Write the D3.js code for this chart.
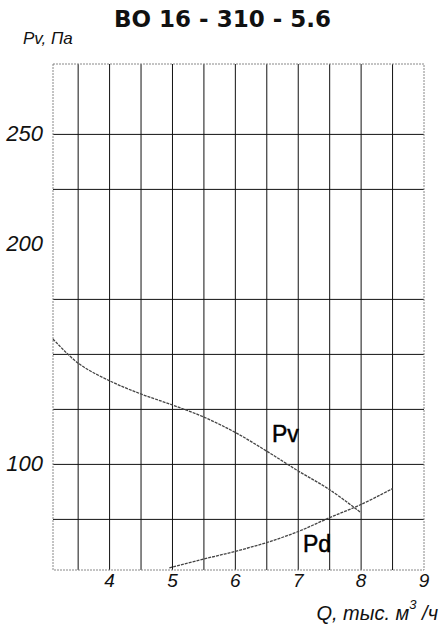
<!DOCTYPE html>
<html>
<head>
<meta charset="utf-8">
<script src="https://cdn.jsdelivr.net/npm/d3@7"></script>
<style>
  body { margin: 0; background: #fff; }
  .tick-lbl { font-family: "Liberation Sans Narrow", "Liberation Sans", sans-serif; font-style: italic; fill: #111; }
</style>
</head>
<body>
<div id="chart"></div>
<script>
// Datos de la curva (Q en miles m3/h, presion en Pa)
const qPv = [3.1, 3.5, 4, 4.5, 5, 5.5, 6, 6.5, 7, 7.5, 8];
const pv = [157, 146, 138, 132, 127, 121.5, 114.5, 106, 97, 88.5, 78];
const qPd = [4.95, 5.5, 6, 6.5, 7, 7.5, 8, 8.5];
const pd = [53, 57, 60.5, 64.5, 69.5, 75.8, 81.8, 89];

const xTicks = [4, 5, 6, 7, 8, 9];
const xGrid = [3.5, 4, 4.5, 5, 5.5, 6, 6.5, 7, 7.5, 8, 8.5];
const yTicks = [100, 200, 250];
const yGrid = [75, 100, 125, 150, 175, 225, 250];

const W = 443, H = 624;
const box = {left: 53, right: 424, top: 64, bottom: 570};

let svg = d3.select("#chart")
  .append("svg")
    .attr("width", W)
    .attr("height", H);

var xScale = d3.scaleLinear()
  .domain([3.1, 9])
  .range([box.left, box.right]);

var yScale = d3.scaleLinear()
  .domain([52, 282])
  .range([box.bottom, box.top]);

// Titulo
svg.append("text")
  .attr("x", 222.5)
  .attr("y", 27)
  .attr("text-anchor", "middle")
  .style("font-family", "'DejaVu Sans', sans-serif")
  .style("font-weight", "bold")
  .style("font-size", "23px")
  .attr("fill", "#111")
  .text("ВО 16 - 310 - 5.6");

// Grilla
svg.append("g")
  .selectAll("line")
  .data(xGrid)
  .enter()
  .append("line")
    .attr("x1", d => xScale(d))
    .attr("x2", d => xScale(d))
    .attr("y1", box.top)
    .attr("y2", box.bottom)
    .attr("stroke", "#111")
    .attr("stroke-width", 1);

svg.append("g")
  .selectAll("line")
  .data(yGrid)
  .enter()
  .append("line")
    .attr("x1", box.left)
    .attr("x2", box.right)
    .attr("y1", d => yScale(d))
    .attr("y2", d => yScale(d))
    .attr("stroke", "#111")
    .attr("stroke-width", 1);

// Marco punteado
svg.append("rect")
  .attr("x", box.left)
  .attr("y", box.top)
  .attr("width", box.right - box.left)
  .attr("height", box.bottom - box.top)
  .attr("fill", "none")
  .attr("stroke", "#888")
  .attr("stroke-width", 1)
  .attr("stroke-dasharray", "2,1");

// Etiquetas de ejes
svg.append("g")
  .selectAll("text")
  .data(xTicks)
  .enter()
  .append("text")
    .attr("class", "tick-lbl")
    .attr("x", d => xScale(d))
    .attr("y", 587)
    .attr("text-anchor", "middle")
    .style("font-size", "19px")
    .text(d => d);

svg.append("g")
  .selectAll("text")
  .data(yTicks)
  .enter()
  .append("text")
    .attr("class", "tick-lbl")
    .attr("x", 43)
    .attr("y", d => yScale(d) - 1)
    .attr("dy", "0.35em")
    .attr("text-anchor", "end")
    .style("font-size", "22px")
    .text(d => d);

svg.append("text")
  .attr("class", "tick-lbl")
  .attr("x", 23)
  .attr("y", 44)
  .style("font-size", "17px")
  .text("Pv, Па");

let qLabel = svg.append("text")
  .attr("class", "tick-lbl")
  .attr("x", 438)
  .attr("y", 620)
  .attr("text-anchor", "end")
  .style("font-size", "20px");
qLabel.append("tspan").text("Q, тыс. м");
qLabel.append("tspan").attr("dy", -11).style("font-size", "13px").text("3");
qLabel.append("tspan").attr("dy", 11).text(" /ч");

// Curvas
let line = d3.line()
  .x(d => xScale(d[0]))
  .y(d => yScale(d[1]))
  .curve(d3.curveCatmullRom);

[[qPv, pv], [qPd, pd]].forEach(function(s) {
  svg.append("path")
    .datum(d3.zip(s[0], s[1]))
    .attr("d", line)
    .attr("fill", "none")
    .attr("stroke", "#444")
    .attr("stroke-width", 1.3)
    .attr("stroke-dasharray", "3,1");
});

svg.append("text")
  .attr("x", 272)
  .attr("y", 442)
  .style("font-family", "'Liberation Sans Narrow', 'Liberation Sans', sans-serif")
  .style("font-size", "23px")
  .attr("fill", "#000")
  .attr("stroke", "#000")
  .attr("stroke-width", 0.5)
  .text("Pv");

svg.append("text")
  .attr("x", 303)
  .attr("y", 552)
  .style("font-family", "'Liberation Sans Narrow', 'Liberation Sans', sans-serif")
  .style("font-size", "23px")
  .attr("fill", "#000")
  .attr("stroke", "#000")
  .attr("stroke-width", 0.5)
  .text("Pd");
</script>
</body>
</html>
